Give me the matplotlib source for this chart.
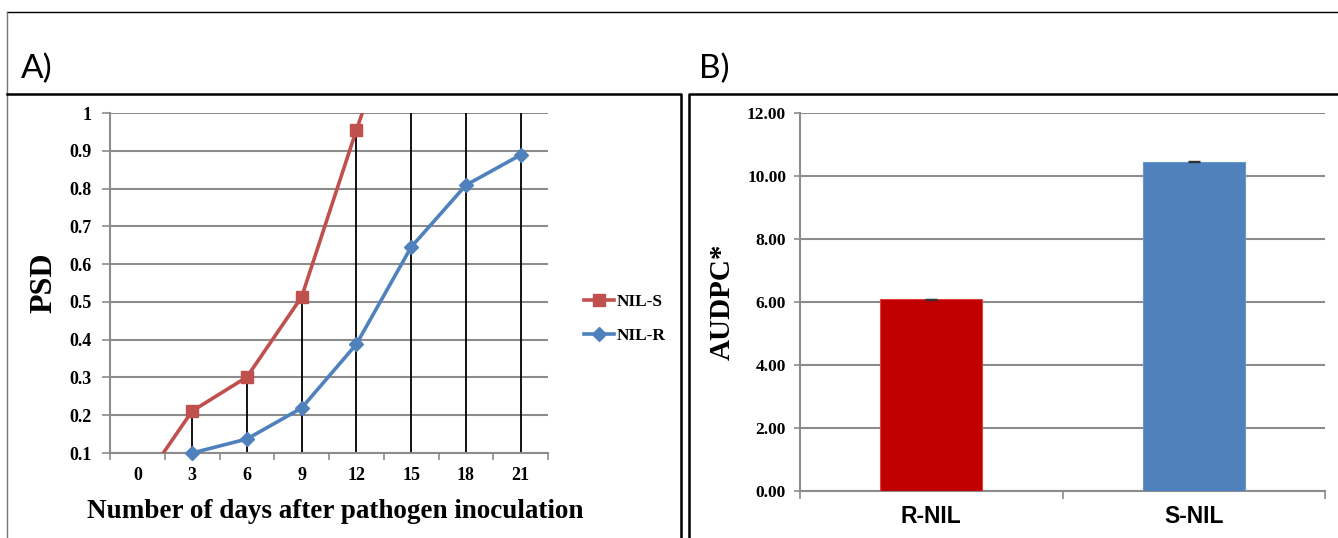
import matplotlib
matplotlib.use("Agg")
import matplotlib.pyplot as plt
from matplotlib.lines import Line2D

# panel A: proportion of severe disease over time
days = ["0", "3", "6", "9", "12", "15", "18", "21"]
nil_s = [0.0, 0.211, 0.301, 0.513, 0.955, 1.37, 1.60, 1.80]
nil_r = [0.0, 0.100, 0.137, 0.219, 0.388, 0.645, 0.809, 0.889]
psd_ticks = [0.1, 0.2, 0.3, 0.4, 0.5, 0.6, 0.7, 0.8, 0.9, 1.0]

# panel B: AUDPC per line
lines_b = ["R-NIL", "S-NIL"]
audpc = [6.08, 10.45]
audpc_err = [0.02, 0.02]
audpc_ticks = [0, 2, 4, 6, 8, 10, 12]

W, H = 1338, 538
RED = "#C0504D"
BLUE = "#4F81BD"
GRID = "#8C8C8C"
SERIF = "Liberation Serif"


def box(l, t, r, b):
    return [l / W, 1 - b / H, (r - l) / W, (b - t) / H]


def fline(fig, xs, ys, lw, color):
    fig.add_artist(Line2D([x / W for x in xs], [1 - y / H for y in ys],
                          lw=lw, color=color, transform=fig.transFigure))


fig = plt.figure(figsize=(W / 100, H / 100), dpi=100)

# frames
fline(fig, [7, W], [12, 12], 1.0, "black")
fline(fig, [7, 7], [12, H], 1.0, "#777777")
fline(fig, [7, 681, 681, 681], [94, 94, 94, H], 1.8, "black")
fline(fig, [689, 689, W], [H, 94, 94], 1.8, "black")
fig.text(21 / W, 1 - 69 / H, "A)", fontsize=24, family="Lato", va="center")
fig.text(699 / W, 1 - 69 / H, "B)", fontsize=24, family="Lato", va="center")

# ---- panel A
ax = fig.add_axes(box(110, 113, 548, 453))
x = list(range(len(days)))
tops = [max(s, r) for s, r in zip(nil_s, nil_r)]
ax.vlines(x, 0.1, tops, color="black", lw=1.3, zorder=2)
ax.plot(x, nil_s, color=RED, lw=2.6, zorder=3)
ax.plot(x, nil_r, color=BLUE, lw=2.6, zorder=3)
vis_s = [(i, v) for i, v in zip(x, nil_s) if 0.1 <= v <= 1]
vis_r = [(i, v) for i, v in zip(x, nil_r) if 0.1 <= v <= 1]
ax.plot(*zip(*vis_s), ls="none", marker="s", ms=9, color=RED, clip_on=False, zorder=4)
ax.plot(*zip(*vis_r), ls="none", marker="D", ms=7.5, color=BLUE, clip_on=False, zorder=4)
h_s = Line2D([], [], color=RED, lw=2.6, marker="s", ms=8)
h_r = Line2D([], [], color=BLUE, lw=2.6, marker="D", ms=7)
fig.legend([h_s, h_r], ["NIL-S", "NIL-R"], loc="center left",
           bbox_to_anchor=(575 / W, 1 - 319 / H), frameon=False,
           prop={"family": SERIF, "weight": "bold", "size": 12.5},
           handlelength=1.75, handletextpad=0.15, labelspacing=1.05, borderpad=0)

ax.set_xlim(-0.5, len(days) - 0.5)
ax.set_ylim(0.1, 1.0)
ax.set_yticks(psd_ticks)
ax.set_yticklabels([f"{v:g}" for v in psd_ticks])
ax.set_xticks(x)
ax.set_xticklabels(days)
ax.set_xticks([i - 0.5 for i in range(len(days) + 1)], minor=True)
ax.tick_params(axis="x", which="major", length=0, pad=10)
ax.tick_params(axis="x", which="minor", length=5, color=GRID, width=1.2)
ax.tick_params(axis="y", length=6, color=GRID, width=1.2, pad=7)
for lab in ax.get_xticklabels() + ax.get_yticklabels():
    lab.set_family(SERIF)
    lab.set_weight("bold")
    lab.set_fontsize(13)
ax.yaxis.grid(True, color=GRID, lw=1.5)
ax.set_axisbelow(True)
for side in ("top", "right"):
    ax.spines[side].set_visible(False)
for side in ("left", "bottom"):
    ax.spines[side].set_color(GRID)
    ax.spines[side].set_linewidth(1.5)
ax.set_ylabel("PSD", family=SERIF, weight="bold", fontsize=23, labelpad=8)
ax.set_xlabel("Number of days after pathogen inoculation", family=SERIF,
              weight="bold", fontsize=19.5)
ax.xaxis.set_label_coords(0.513, -0.135)

# ---- panel B
bx = fig.add_axes(box(800, 113, 1325, 491))
xb = list(range(len(lines_b)))
bx.bar(xb, audpc, width=0.39, color=["#C00000", BLUE], edgecolor=["#E04040", "#6A96CC"],
       lw=0.8, zorder=3)
bx.errorbar(xb, audpc, yerr=audpc_err, fmt="none", ecolor="#333333", capsize=4,
            elinewidth=1, zorder=4)
bx.set_xlim(-0.5, len(lines_b) - 0.5)
bx.set_ylim(0, 12)
bx.set_yticks(audpc_ticks)
bx.set_yticklabels([f"{v:.2f}" for v in audpc_ticks])
bx.set_xticks(xb)
bx.set_xticklabels(lines_b)
bx.set_xticks([-0.5, 0.5, 1.5], minor=True)
bx.tick_params(axis="x", which="major", length=0, pad=10)
bx.tick_params(axis="x", which="minor", length=6, color=GRID, width=1.2)
bx.tick_params(axis="y", length=4, color=GRID, width=1.2, pad=6)
for lab in bx.get_yticklabels():
    lab.set_family(SERIF)
    lab.set_weight("bold")
    lab.set_fontsize(12.5)
for lab in bx.get_xticklabels():
    lab.set_family("Liberation Sans")
    lab.set_weight("bold")
    lab.set_fontsize(16.5)
bx.yaxis.grid(True, color=GRID, lw=1.5)
bx.set_axisbelow(True)
for side in ("top", "right"):
    bx.spines[side].set_visible(False)
for side in ("left", "bottom"):
    bx.spines[side].set_color(GRID)
    bx.spines[side].set_linewidth(1.5)
bx.set_ylabel("AUDPC*", family=SERIF, weight="bold", fontsize=21, labelpad=8)

fig.savefig("out.png", dpi=100)
